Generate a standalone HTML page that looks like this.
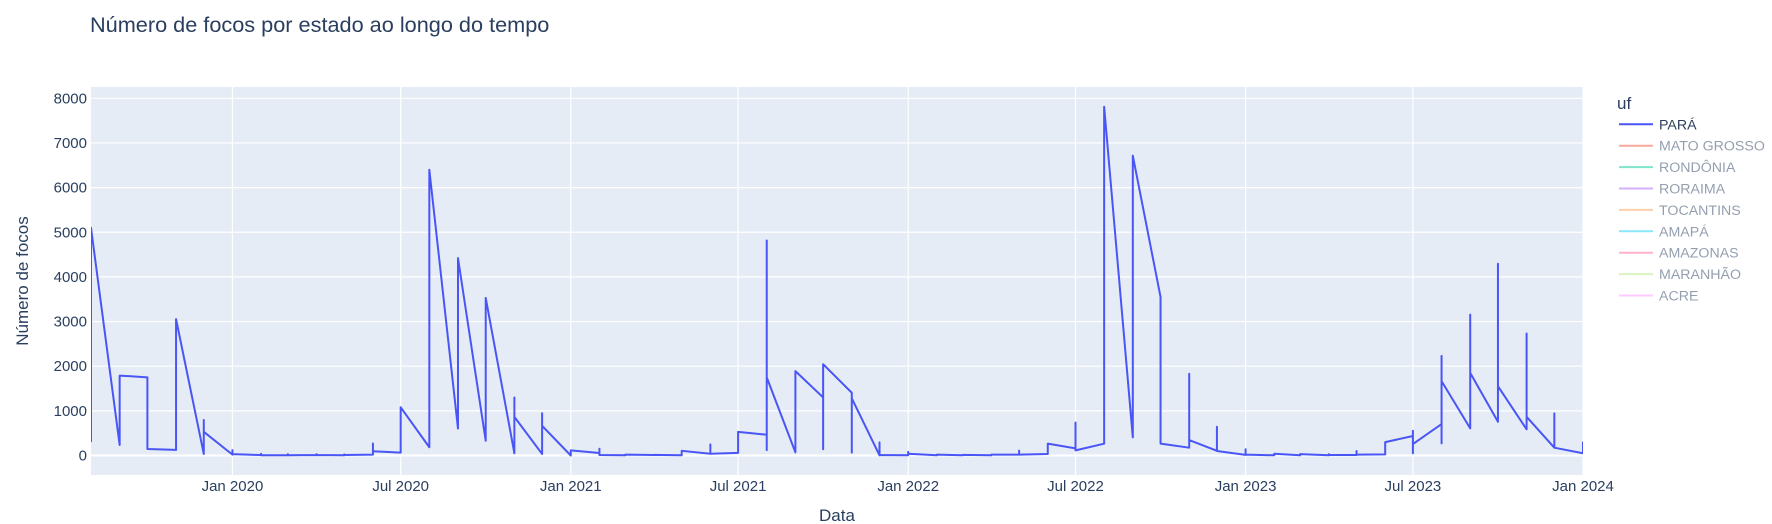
<!DOCTYPE html>
<html><head><meta charset="utf-8">
<style>
html,body{margin:0;padding:0;background:#fff;}
svg{display:block;font-family:"Liberation Sans",Arial,sans-serif;}
</style></head>
<body>
<svg id="chart" width="1772" height="524" viewBox="0 0 1772 524">
  <text x="90" y="32" font-size="21.7" fill="#2a3f5f">Número de focos por estado ao longo do tempo</text>
  <rect x="91" y="87" width="1492" height="388" fill="#e5ecf6"/>
  <g id="grid"></g>
  <g id="yticks"></g>
  <g id="xticks"></g>
  <defs><clipPath id="clip"><rect x="91" y="87" width="1492" height="388"/></clipPath></defs>
  <g id="series" clip-path="url(#clip)"></g>
  <text x="837" y="521" font-size="17" fill="#2a3f5f" text-anchor="middle">Data</text>
  <text transform="translate(28,281) rotate(-90)" font-size="17" fill="#2a3f5f" text-anchor="middle">Número de focos</text>
  <g id="legend">
    <text x="1617" y="109" font-size="17" fill="#2a3f5f">uf</text>
  </g>
</svg>
<script>
const ufNames = ["PARÁ","MATO GROSSO","RONDÔNIA","RORAIMA","TOCANTINS","AMAPÁ","AMAZONAS","MARANHÃO","ACRE"];
const ufColors = ["#4a55f6","#EF553B","#00cc96","#ab63fa","#FFA15A","#19d3f3","#FF6692","#B6E880","#FF97FF"];
const yTicks = [0,1000,2000,3000,4000,5000,6000,7000,8000];
const xTickDates = ["2020-01-01","2020-07-01","2021-01-01","2021-07-01","2022-01-01","2022-07-01","2023-01-01","2023-07-01","2024-01-01"];
const xTickLabels = ["Jan 2020","Jul 2020","Jan 2021","Jul 2021","Jan 2022","Jul 2022","Jan 2023","Jul 2023","Jan 2024"];
const monthDates = ["2019-08-01","2019-09-01","2019-10-01","2019-11-01","2019-12-01","2020-01-01","2020-02-01","2020-03-01","2020-04-01","2020-05-01","2020-06-01","2020-07-01","2020-08-01","2020-09-01","2020-10-01","2020-11-01","2020-12-01","2021-01-01","2021-02-01","2021-03-01","2021-04-01","2021-05-01","2021-06-01","2021-07-01","2021-08-01","2021-09-01","2021-10-01","2021-11-01","2021-12-01","2022-01-01","2022-02-01","2022-03-01","2022-04-01","2022-05-01","2022-06-01","2022-07-01","2022-08-01","2022-09-01","2022-10-01","2022-11-01","2022-12-01","2023-01-01","2023-02-01","2023-03-01","2023-04-01","2023-05-01","2023-06-01","2023-07-01","2023-08-01","2023-09-01","2023-10-01","2023-11-01","2023-12-01","2024-01-01"];
const monthValues = [[300,5100],[235,1790],[1750,145],[125,3055],[35,795,530],[20,120,30],[10,40,5],[5,30,5],[10,30,10],[5,25,10],[20,270,95],[65,1080],[185,6400],[605,4420],[330,3530],[50,1300,865],[35,945,665],[0,115],[55,150,10],[5,20],[10,15],[5,105],[40,250,40],[60,530],[465,120,4815,1750],[70,1890],[1300,140,2045],[1405,65,1280],[5,295,10],[5,80,40],[5,20],[5,15],[5,20],[20,110,20],[35,265],[160,740,115],[265,7810],[405,6715],[3550,265],[175,1830,345],[105,645,100],[15,140,20],[5,40],[5,30],[5,30,10],[10,100,20],[25,300],[436,554,50,257],[704,272,2230,1665],[607,3155,1850],[755,4295,1553],[586,2731,867],[175,943,175],[50,310]];

const NS="http://www.w3.org/2000/svg";
const X0=91,X1=1583,Y0=455.5,Y8=98.3;
const t0=Date.parse("2019-08-01"),t1=Date.parse("2024-01-01");
function xs(d){return X0+(Date.parse(d)-t0)/(t1-t0)*(X1-X0);}
function ys(v){return Y0+(Y8-Y0)*v/8000;}
function mk(tag,attrs,parent){const e=document.createElementNS(NS,tag);for(const k in attrs)e.setAttribute(k,attrs[k]);parent.appendChild(e);return e;}

const grid=document.getElementById('grid'),yt=document.getElementById('yticks'),xt=document.getElementById('xticks');
yTicks.forEach(v=>{
  const l=mk('line',{x1:X0,x2:X1,y1:ys(v),y2:ys(v),stroke:'#fff','stroke-width':v===0?2:1.2},grid);
  
  
  const t=mk('text',{x:87,y:ys(v)+5,'font-size':15,fill:'#2a3f5f','text-anchor':'end'},yt);
  t.textContent=String(v);
  
  
});
xTickDates.forEach((d,i)=>{
  const x=xs(d);
  const l=mk('line',{x1:x,x2:x,y1:87,y2:475,stroke:'#fff','stroke-width':1.2},grid);
  
  
  const t=mk('text',{x:x,y:491,'font-size':15,fill:'#2a3f5f','text-anchor':'middle'},xt);
  t.textContent=xTickLabels[i];
  
  
});

let pts=[];
monthDates.forEach((d,i)=>{monthValues[i].forEach(v=>pts.push(xs(d).toFixed(2)+','+ys(v).toFixed(2)));});
const line=mk('polyline',{points:pts.join(' '),fill:'none',stroke:ufColors[0],'stroke-width':2,'stroke-linejoin':'round'},document.getElementById('series'));



const lg=document.getElementById('legend');
ufNames.forEach((n,i)=>{
  const y=124.3+21.4*i;
  const g=mk('g',{opacity:i===0?1:0.5},lg);
  
  
  mk('line',{x1:1619,x2:1653,y1:y,y2:y,stroke:ufColors[i],'stroke-width':2},g);
  const t=mk('text',{x:1659,y:y+5,'font-size':14.2,fill:'#2a3f5f'},g);
  t.textContent=n;
});
</script>
</body></html>
